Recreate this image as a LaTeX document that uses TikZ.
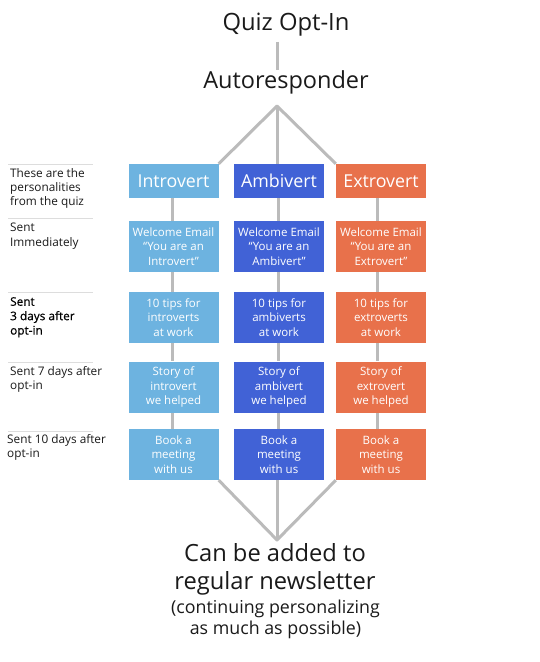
\documentclass[tikz,border=0pt]{standalone}
\usepackage{fontspec}
\setmainfont{Open Sans}
\newfontfamily\semib[FakeBold=0.5]{Open Sans}
\usetikzlibrary{backgrounds}
\definecolor{introc}{HTML}{6DB3E0}
\definecolor{ambic}{HTML}{4162D6}
\definecolor{extroc}{HTML}{E8714B}
\definecolor{linegray}{HTML}{BBBBBB}
\definecolor{sepgray}{HTML}{DDDDDD}
\definecolor{txt}{HTML}{1A1A1A}
\tikzset{
  box/.style={minimum width=90pt, minimum height=51pt, inner sep=0pt, text=white, align=center,
    font=\fontsize{11.5}{14.5}\selectfont},
  hbox/.style={box, minimum height=34pt, font=\fontsize{17.8}{20}\selectfont},
  conn/.style={draw=linegray, line width=3pt, line join=round},
  lab/.style={anchor=north west, align=left, inner sep=0pt, text=txt, font=\fontsize{11.8}{14.4}\selectfont},
  sep/.style={draw=sepgray, line width=0.6pt},
  big/.style={text=txt, align=center, inner sep=0pt}
}
\begin{document}
\begin{tikzpicture}[x=1pt,y=-1pt]
\useasboundingbox (0,0) rectangle (539,662);
\begin{scope}[on background layer]
  \fill[white] (0,0) rectangle (539,662);
\end{scope}

% titles
\node[big, font=\fontsize{23.8}{26}\selectfont] (quiz) at (286,25) {Quiz Opt-In};
\node[big, font=\fontsize{23.5}{26}\selectfont] (auto) at (286,82) {Autoresponder};
\coordinate (top) at (277,106);
\coordinate (bot) at (277,540);

% boxes
\foreach \nm/\cx/\col/\a/\b/\c/\d/\e in {
  i/173.5/introc/Introvert/{Welcome Email\\``You are an\\Introvert''}/{10 tips for\\introverts\\at work}/{Story of\\introvert\\we helped}/{Book a\\meeting\\with us},
  a/279/ambic/Ambivert/{Welcome Email\\``You are an\\Ambivert''}/{10 tips for\\ambiverts\\at work}/{Story of\\ambivert\\we helped}/{Book a\\meeting\\with us},
  e/381/extroc/Extrovert/{Welcome Email\\``You are an\\Extrovert''}/{10 tips for\\extroverts\\at work}/{Story of\\extrovert\\we helped}/{Book a\\meeting\\with us}}{
  \node[hbox, fill=\col] (\nm1) at (\cx,181) {\a};
  \node[box, fill=\col] (\nm2) at (\cx,246.5) {\b};
  \node[box, fill=\col] (\nm3) at (\cx,317.5) {\c};
  \node[box, fill=\col] (\nm4) at (\cx,387) {\d};
  \node[box, fill=\col] (\nm5) at (\cx,454.5) {\e};
}

% bottom text
\node[big, font=\fontsize{23.7}{28}\selectfont] (nl) at (275,569) {Can be added to\\regular newsletter};
\node[big, font=\fontsize{17.8}{21}\selectfont] (np) at (275.5,619.5) {(continuing personalizing\\as much as possible)};

% connectors
\begin{scope}[on background layer]
  \draw[conn] (top |- quiz.south) ++(0,5) -- (top |- auto.north);
  \draw[conn] (i1.north east) -- (top) -- (e1.north west);
  \draw[conn] (top) -- (top |- a1.north);
  \draw[conn] (i5.south east) -- (bot) -- (e5.south west);
  \draw[conn] (bot |- a5.south) -- (bot);
  \foreach \nm/\dx in {i/-1.5, a/-1, e/-4}{
    \foreach \p/\q in {1/2, 2/3, 3/4, 4/5}{
      \draw[conn] ([xshift=\dx pt]\nm\p.south) -- ([xshift=\dx pt]\nm\q.north);
    }
  }
\end{scope}

% left labels
\foreach \y/\n in {164/s1, 218/s2, 292/s3, 362/s4, 431/s5}{
  \coordinate (\n a) at (8,\y);
  \coordinate (\n b) at (93,\y);
  \draw[sep] (\n a) -- (\n b);
}
\node[lab] (l1) at (10,168) {These are the\\personalities\\from the quiz};
\node[lab] (l2) at (10,223) {Sent\\Immediately};
\node[lab, font=\semib\fontsize{11.8}{14.4}\selectfont, text=black] (l3) at (10,297) {Sent\\3 days after\\opt-in};
\node[lab] (l4) at (10,366) {Sent 7 days after\\opt-in};
\node[lab] (l5) at (7,434) {Sent 10 days after\\opt-in};
\end{tikzpicture}
\end{document}
